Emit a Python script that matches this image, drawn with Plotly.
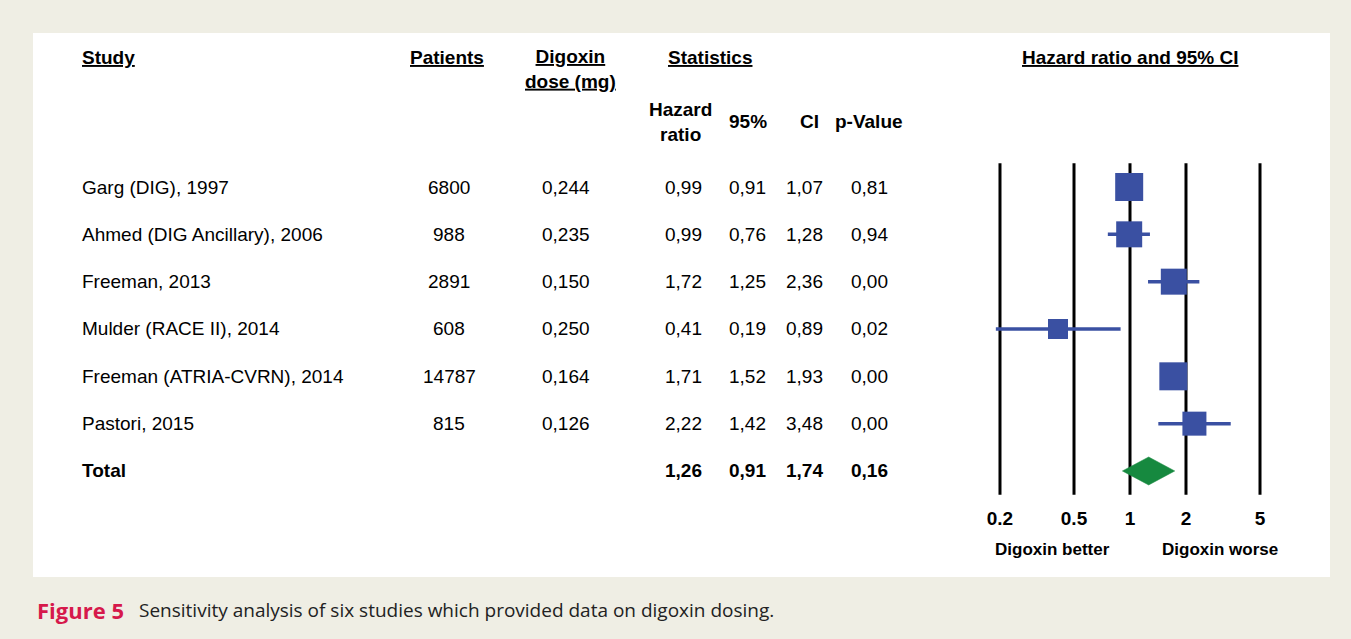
import math
import plotly.graph_objects as go

# ---------------- data ----------------
studies = ["Garg (DIG), 1997", "Ahmed (DIG Ancillary), 2006", "Freeman, 2013",
           "Mulder (RACE II), 2014", "Freeman (ATRIA-CVRN), 2014", "Pastori, 2015"]
patients = [6800, 988, 2891, 608, 14787, 815]
dose_mg = [0.244, 0.235, 0.150, 0.250, 0.164, 0.126]
hazard_ratio = [0.99, 0.99, 1.72, 0.41, 1.71, 2.22]
ci_low = [0.91, 0.76, 1.25, 0.19, 1.52, 1.42]
ci_high = [1.07, 1.28, 2.36, 0.89, 1.93, 3.48]
p_value = [0.81, 0.94, 0.00, 0.02, 0.00, 0.00]

total_label = "Total"
total_hr = 1.26
total_low = 0.91
total_high = 1.74
total_p = 0.16

tick_values = [0.2, 0.5, 1, 2, 5]
tick_labels = ["0.2", "0.5", "1", "2", "5"]

# ---------------- style ----------------
W, H = 1351, 639
BG = "#efeee4"
BLUE = "#3a50a2"
GREEN = "#16893f"
FONT = "Liberation Sans, Arial, sans-serif"
box_px = [28, 26, 26, 20, 28, 24]  # square side in px (visual weight)

PX_PER_DEC = 186.0
PX_ONE = 1130.0
ROW0 = 187.0
ROW_STEP = 47.33


def fmt(v, d=2):
    return f"{v:.{d}f}".replace(".", ",")


def px(xpix):
    return xpix / W


def py(ypix):
    return 1 - ypix / H


fig = go.Figure()

n = len(studies)
rows = list(range(n))
total_row = n

# vertical reference lines
vx, vy = [], []
for t in tick_values:
    vx += [t, t, None]
    vy += [-0.5, total_row + 0.5, None]
fig.add_trace(go.Scatter(x=vx, y=vy, mode="lines",
                         line=dict(color="black", width=3), hoverinfo="skip"))

# CI whiskers
wx, wy = [], []
for i in rows:
    wx += [ci_low[i], ci_high[i], None]
    wy += [i, i, None]
fig.add_trace(go.Scatter(x=wx, y=wy, mode="lines",
                         line=dict(color=BLUE, width=3.5), hoverinfo="skip"))

# squares
fig.add_trace(go.Scatter(x=hazard_ratio, y=rows, mode="markers",
                         marker=dict(symbol="square", size=box_px, color=BLUE,
                                     opacity=1, line=dict(width=0)),
                         hoverinfo="skip"))

# total diamond
dh = 0.296
fig.add_trace(go.Scatter(x=[total_low, total_hr, total_high, total_hr, total_low],
                         y=[total_row, total_row - dh, total_row, total_row + dh, total_row],
                         mode="lines", fill="toself", fillcolor=GREEN,
                         line=dict(color=GREEN, width=0.5), hoverinfo="skip"))

# tick labels
fig.add_trace(go.Scatter(x=tick_values, y=[total_row + 1.04] * len(tick_values),
                         mode="text", text=[f"<b>{t}</b>" for t in tick_labels],
                         textfont=dict(family=FONT, size=19, color="black"),
                         cliponaxis=False, hoverinfo="skip"))

fig.update_xaxes(type="log", domain=[0, 1],
                 range=[(0 - PX_ONE) / PX_PER_DEC, (W - PX_ONE) / PX_PER_DEC],
                 visible=False, fixedrange=True)
fig.update_yaxes(domain=[0, 1],
                 range=[(H - ROW0) / ROW_STEP, (0 - ROW0) / ROW_STEP],
                 visible=False, fixedrange=True)

ann = []


def text(x, y, s, size=19, anchor="center", yref="paper", bold=False, color="black",
         family=FONT, yanchor="middle"):
    ann.append(dict(x=x, y=y, xref="paper", yref=yref, text=(f"<b>{s}</b>" if bold else s),
                    showarrow=False, xanchor=anchor, yanchor=yanchor,
                    font=dict(family=family, size=size, color=color)))


# headers
text(px(80), py(58), "<u>Study</u>", anchor="left", bold=True)
text(px(447), py(58), "<u>Patients</u>", bold=True)
text(px(570), py(69), "<u>Digoxin</u><br><u>dose (mg)</u>", bold=True)
text(px(710), py(58), "<u>Statistics</u>", bold=True)
text(px(681), py(122), "Hazard<br>ratio", bold=True)
text(px(748), py(122), "95%", bold=True)
text(px(809), py(122), "CI", bold=True)
text(px(869), py(122), "p-Value", bold=True)
text(px(1130), py(58), "<u>Hazard ratio and 95% CI</u>", bold=True)

# rows
for i in rows:
    text(px(80), i, studies[i], anchor="left", yref="y")
    text(px(449), i, str(patients[i]), yref="y")
    text(px(566), i, fmt(dose_mg[i], 3), yref="y")
    text(px(683), i, fmt(hazard_ratio[i]), yref="y")
    text(px(747), i, fmt(ci_low[i]), yref="y")
    text(px(804), i, fmt(ci_high[i]), yref="y")
    text(px(869), i, fmt(p_value[i]), yref="y")

text(px(80), total_row, total_label, anchor="left", yref="y", bold=True)
text(px(683), total_row, fmt(total_hr), yref="y", bold=True)
text(px(747), total_row, fmt(total_low), yref="y", bold=True)
text(px(804), total_row, fmt(total_high), yref="y", bold=True)
text(px(869), total_row, fmt(total_p), yref="y", bold=True)

text(px(1052), py(549), "Digoxin better", size=17, bold=True)
text(px(1220), py(549), "Digoxin worse", size=17, bold=True)

# caption
text(px(35), py(610), "Figure 5", size=22, anchor="left", bold=True, color="#d6194b",
     family="Open Sans, sans-serif")
text(px(137), py(610), "Sensitivity analysis of six studies which provided data on digoxin dosing.",
     size=19, anchor="left", family="Open Sans, sans-serif", color="#222222")

fig.update_layout(
    width=W, height=H, margin=dict(l=0, r=0, t=0, b=0),
    paper_bgcolor=BG, plot_bgcolor="rgba(0,0,0,0)",
    showlegend=False, annotations=ann,
    shapes=[dict(type="rect", xref="paper", yref="paper", layer="below",
                 x0=px(33), x1=px(1330), y0=py(577), y1=py(33),
                 fillcolor="white", line=dict(width=0))],
)

fig.write_html("out.html", config={"displayModeBar": False},
               post_script="document.body.style.margin='0';document.body.style.overflow='hidden';")
